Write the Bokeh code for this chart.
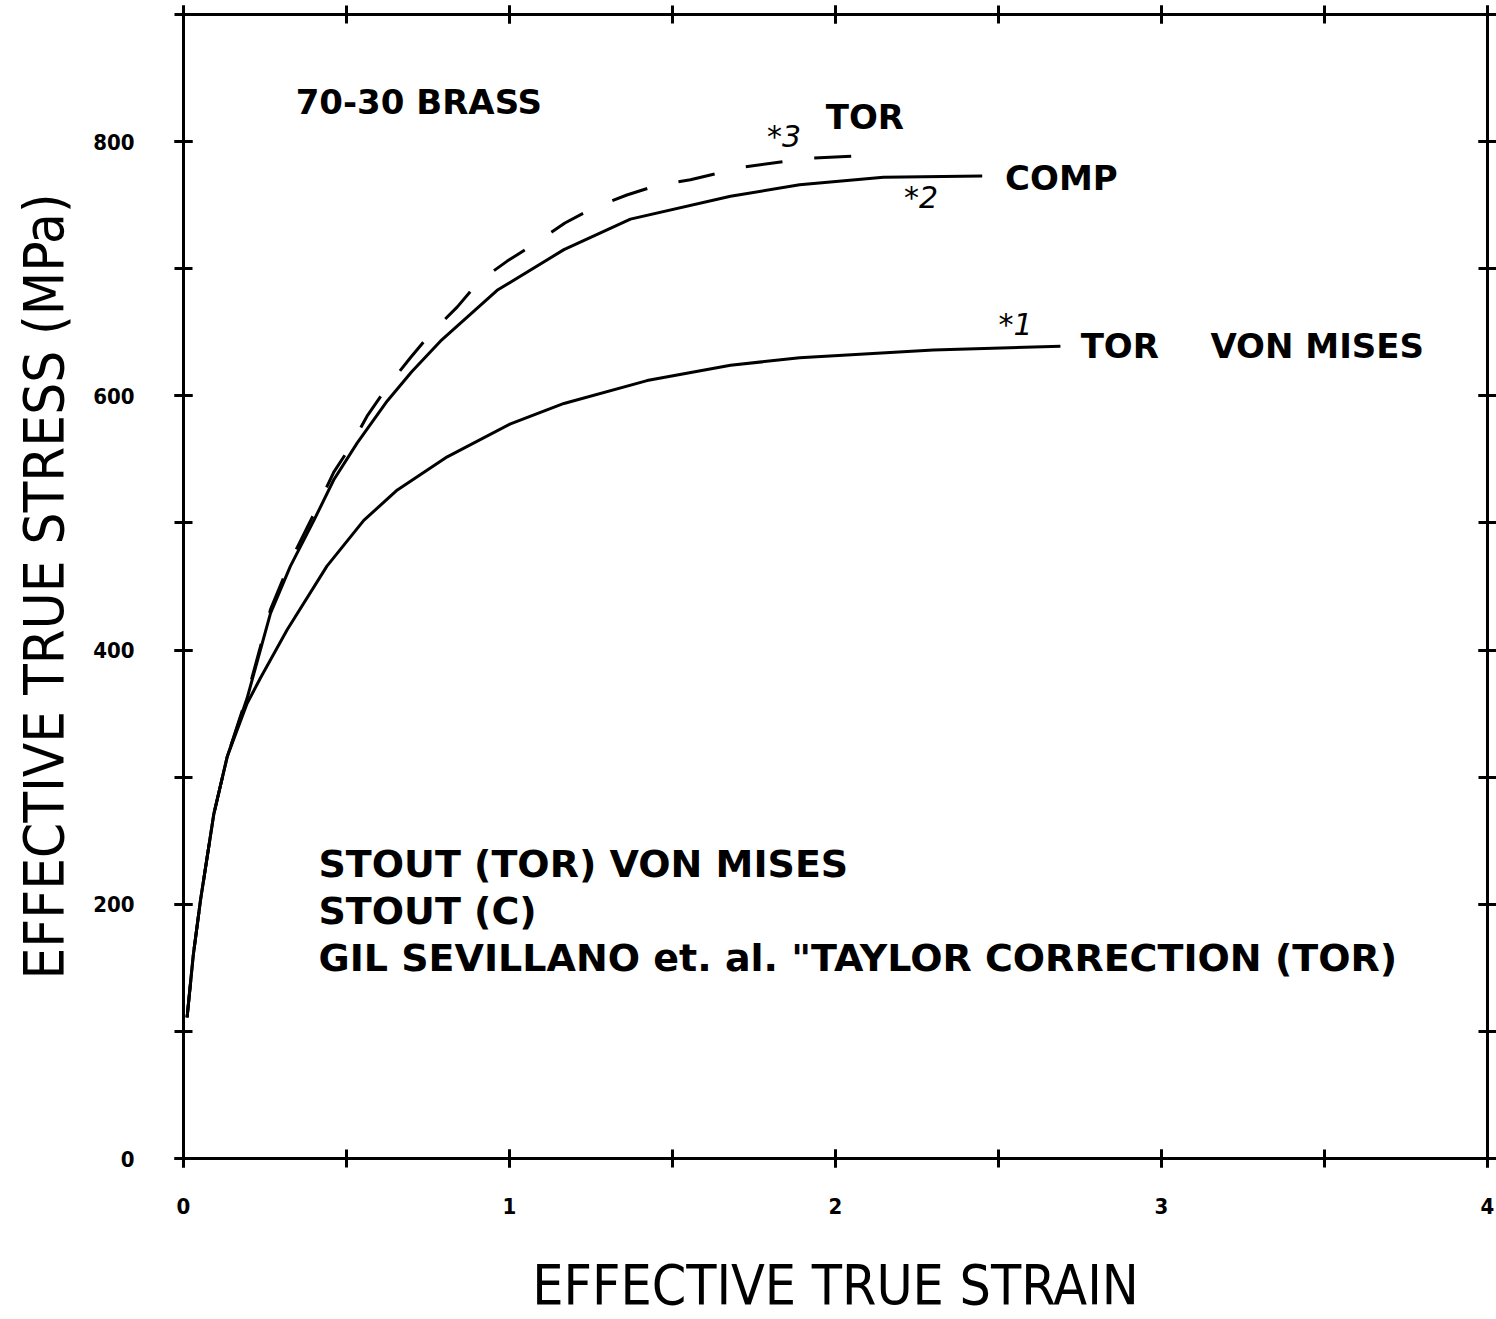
from bokeh.plotting import figure
from bokeh.models import Range1d, LinearAxis, SingleIntervalTicker, Label
from bokeh.embed import file_html
from bokeh.resources import INLINE

# ---- data ----
# Curve #1: Stout (TOR) von Mises
strain_tor_vm = [0.011, 0.03, 0.052, 0.093, 0.134, 0.195, 0.236, 0.318, 0.44, 0.553, 0.656,
                 0.809, 1.003, 1.167, 1.422, 1.678, 1.89, 2.30, 2.69]
stress_tor_vm = [111, 160, 203, 271, 316, 358, 378, 416, 466, 502, 526,
                 552, 578, 594, 612, 624, 630, 636, 639]

# Curve #2: Stout (C) compression
strain_comp = [0.011, 0.03, 0.052, 0.093, 0.134, 0.195, 0.267, 0.328, 0.40, 0.461, 0.533,
               0.625, 0.70, 0.788, 0.962, 1.167, 1.371, 1.678, 1.89, 2.147, 2.45]
stress_comp = [111, 160, 203, 271, 316, 362, 429, 466, 502, 534, 563,
               596, 619, 643, 683, 715, 739, 757, 766, 772, 773]

# Curve #3: Gil Sevillano et al. Taylor correction (TOR), dashed
strain_taylor = [0.011, 0.03, 0.052, 0.093, 0.134, 0.195, 0.267, 0.328, 0.40, 0.461, 0.512,
                 0.563, 0.625, 0.696, 0.758, 0.84, 0.906, 0.993, 1.08, 1.17, 1.259, 1.36,
                 1.458, 1.555, 1.718, 1.923, 2.09]
stress_taylor = [111, 160, 203, 271, 316, 364, 432, 470, 507, 540, 560,
                 584, 607, 630, 649, 670, 690, 706, 720, 736, 748, 758,
                 766, 770, 780, 787, 789]

x_ticks_labels = {0: "0", 1: "1", 2: "2", 3: "3", 4: "4"}
y_ticks_labels = {0: "0", 200: "200", 400: "400", 600: "600", 800: "800"}

LABEL_FONT = "'Liberation Sans Narrow', 'DejaVu Sans Condensed', 'Roboto Condensed', sans-serif"
TEXT_FONT = "DejaVu Sans"

p = figure(width=1496, height=1319, x_range=Range1d(0, 4), y_range=Range1d(0, 900),
           output_backend="svg", toolbar_location=None,
           min_border_left=183, min_border_right=9, min_border_top=14, min_border_bottom=161,
           x_axis_label="EFFECTIVE TRUE STRAIN", y_axis_label="EFFECTIVE TRUE STRESS (MPa)")
p.grid.visible = False
p.outline_line_color = None
p.background_fill_color = "white"
p.border_fill_color = "white"

p.add_layout(LinearAxis(), "above")
p.add_layout(LinearAxis(), "right")

for ax in p.axis:
    ax.axis_line_width = 3
    ax.axis_line_color = "black"
    ax.major_tick_in = 9
    ax.major_tick_out = 9
    ax.minor_tick_in = 9
    ax.minor_tick_out = 9
    ax.major_tick_line_width = 3
    ax.minor_tick_line_width = 3
    ax.major_tick_line_color = "black"
    ax.minor_tick_line_color = "black"
    ax.major_label_text_font = LABEL_FONT
    ax.major_label_text_font_style = "bold"
    ax.major_label_text_font_size = "22px"
    ax.major_label_text_color = "black"
    ax.axis_label_text_font = LABEL_FONT
    ax.axis_label_text_font_style = "normal"
    ax.axis_label_text_color = "black"

for ax in p.xaxis:
    ax.ticker = SingleIntervalTicker(interval=1, num_minor_ticks=2)
    ax.major_label_overrides = x_ticks_labels
for ax in p.yaxis:
    ax.ticker = SingleIntervalTicker(interval=200, num_minor_ticks=2)
    ax.major_label_overrides = y_ticks_labels

for ax in (p.above[0], p.right[0]):
    ax.major_label_text_font_size = "1px"
    ax.major_label_text_color = None
    ax.major_label_text_alpha = 0
    ax.major_label_standoff = 0

p.below[0].major_label_standoff = 30
p.below[0].axis_label_standoff = 36
p.below[0].axis_label_text_font_size = "55px"
p.left[0].major_label_standoff = 40
p.left[0].axis_label_standoff = 14
p.left[0].axis_label_text_font_size = "56px"

p.line(strain_tor_vm, stress_tor_vm, line_color="black", line_width=3)
p.line(strain_comp, stress_comp, line_color="black", line_width=3)
p.line(strain_taylor, stress_taylor, line_color="black", line_width=3, line_dash="37 32")

def lab(x, y, t, size="34px", style="bold"):
    p.add_layout(Label(x=x, y=y, text=t, text_font=TEXT_FONT, text_font_size=size,
                       text_font_style=style, text_color="black", text_baseline="middle",
                       text_align="left"))

lab(0.344, 831, "70-30 BRASS", size="34px")
lab(1.97, 819, "TOR")
lab(1.79, 804, "*3", size="30px", style="italic")
lab(2.52, 771, "COMP")
lab(2.21, 756, "*2", size="30px", style="italic")
lab(2.50, 656, "*1", size="30px", style="italic")
lab(2.752, 639, "TOR")
lab(3.15, 639, "VON MISES")
lab(0.414, 232, "STOUT (TOR) VON MISES", size="38px")
lab(0.414, 195, "STOUT (C)", size="38px")
lab(0.414, 158, "GIL SEVILLANO et. al. \"TAYLOR CORRECTION (TOR)", size="38px")

open("out.html", "w").write(file_html(p, INLINE))
